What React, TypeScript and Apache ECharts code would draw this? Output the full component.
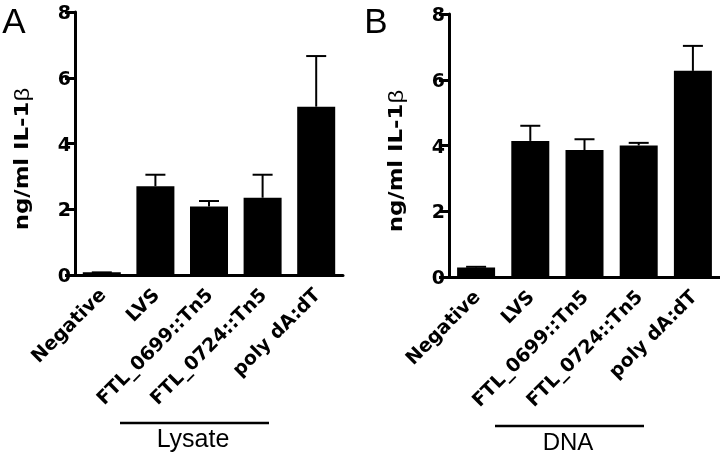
import React, { useEffect, useRef } from "react";
import * as echarts from "echarts";

const categories = ["Negative", "LVS", "FTL_0699::Tn5", "FTL_0724::Tn5", "poly dA:dT"];
const yTicks = [0, 2, 4, 6, 8];
const lysateMeans = [0.08, 2.7, 2.08, 2.35, 5.12];
const lysateErr = [0, 0.35, 0.17, 0.7, 1.54];
const dnaMeans = [0.29, 4.14, 3.86, 4.0, 6.27];
const dnaErr = [0.02, 0.46, 0.33, 0.08, 0.76];
const panelLetters = ["A", "B"];
const groupLabels = ["Lysate", "DNA"];
const yName = "ng/ml IL-1";

const BOLD = "DejaVu Sans";
const REG = "Liberation Sans";

function errorSeries(idx: number, means: number[], errs: number[]) {
  return {
    type: "custom",
    xAxisIndex: idx,
    yAxisIndex: idx,
    z: 5,
    data: means.map((m, i) => [i, m, m + errs[i]]),
    renderItem: (params: any, api: any) => {
      const i = api.value(0);
      const lo = api.coord([i, api.value(1)]);
      const hi = api.coord([i, api.value(2)]);
      const half = 10;
      return {
        type: "group",
        children: [
          {
            type: "line",
            shape: { x1: lo[0], y1: lo[1], x2: hi[0], y2: hi[1] },
            style: { stroke: "#000", lineWidth: 2 },
          },
          {
            type: "line",
            shape: { x1: hi[0] - half, y1: hi[1], x2: hi[0] + half, y2: hi[1] },
            style: { stroke: "#000", lineWidth: 2 },
          },
        ],
      };
    },
  };
}

export default function App() {
  const ref = useRef<HTMLDivElement>(null);
  useEffect(() => {
    if (!ref.current) return;
    const chart = echarts.init(ref.current, null, { renderer: "svg" });
    const grids = [
      { left: 75, top: 12, width: 268, height: 263 },
      { left: 449, top: 14, width: 271, height: 263 },
    ];
    const xAxes = grids.map((_, i) => ({
      type: "category",
      gridIndex: i,
      data: categories,
      axisLine: { lineStyle: { color: "#000", width: 3 } },
      axisTick: { alignWithLabel: true, length: 10, lineStyle: { color: "#000", width: 3 } },
      axisLabel: {
        rotate: 45,
        interval: 0,
        margin: 16,
        color: "#000",
        fontFamily: BOLD,
        fontWeight: "bold",
        fontSize: 19,
      },
    }));
    const yAxes = grids.map((_, i) => ({
      type: "value",
      gridIndex: i,
      min: yTicks[0],
      max: yTicks[yTicks.length - 1],
      interval: 2,
      splitLine: { show: false },
      axisLine: { show: true, lineStyle: { color: "#000", width: 3 } },
      axisTick: { show: true, length: 10, lineStyle: { color: "#000", width: 3 } },
      axisLabel: {
        margin: 4,
        color: "#000",
        fontFamily: BOLD,
        fontWeight: "bold",
        fontSize: 19,
      },
    }));
    const barSeries = [lysateMeans, dnaMeans].map((d, i) => ({
      type: "bar",
      xAxisIndex: i,
      yAxisIndex: i,
      data: d,
      barWidth: 38,
      itemStyle: { color: "#000" },
      z: 3,
    }));
    const txt = (text: string, x: number, y: number, size: number) => ({
      type: "text",
      x,
      y,
      style: {
        text,
        fontFamily: REG,
        fontSize: size,
        fill: "#000",
        align: "center",
        verticalAlign: "middle",
      },
    });
    const yTitle = (x: number, y: number) => ({
      type: "text",
      x,
      y,
      rotation: Math.PI / 2,
      scaleX: 1.2,
      style: {
        text: "{b|" + yName + "}{n|β}",
        align: "center",
        verticalAlign: "middle",
        rich: {
          b: { fontFamily: BOLD, fontWeight: "bold", fontSize: 19, fill: "#000" },
          n: { fontFamily: REG, fontWeight: "normal", fontSize: 20, fill: "#000" },
        },
      },
    });
    chart.setOption({
      animation: false,
      grid: grids,
      xAxis: xAxes,
      yAxis: yAxes,
      series: [
        ...barSeries,
        errorSeries(0, lysateMeans, lysateErr),
        errorSeries(1, dnaMeans, dnaErr),
      ],
      graphic: [
        txt(panelLetters[0], 14, 20, 35),
        txt(panelLetters[1], 376, 20, 35),
        yTitle(22, 159),
        yTitle(396, 161),
        { type: "line", shape: { x1: 120, y1: 423, x2: 269, y2: 423 }, style: { stroke: "#000", lineWidth: 2.5 } },
        { type: "line", shape: { x1: 495, y1: 426, x2: 644, y2: 426 }, style: { stroke: "#000", lineWidth: 2.5 } },
        txt(groupLabels[0], 193, 438, 25),
        txt(groupLabels[1], 568, 441, 24),
      ],
    });
    return () => chart.dispose();
  }, []);
  return (
    <div style={{ position: "fixed", left: 0, top: 0 }}>
      <div ref={ref} style={{ width: 720, height: 454 }} />
    </div>
  );
}
